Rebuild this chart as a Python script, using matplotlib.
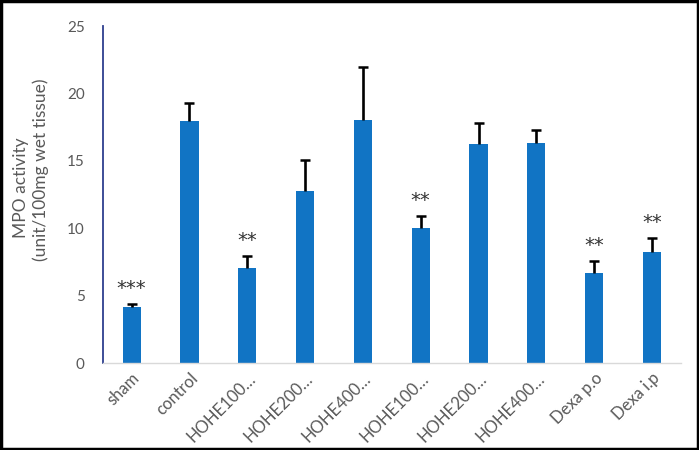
import matplotlib
matplotlib.use("Agg")
import matplotlib.pyplot as plt
from matplotlib.patches import Rectangle

categories = ["sham", "control", "HOHE100…", "HOHE200…", "HOHE400…",
              "HOHE100…", "HOHE200…", "HOHE400…", "Dexa p.o", "Dexa i.p"]
values = [4.19, 17.97, 7.04, 12.74, 18.07, 10.04, 16.24, 16.34, 6.67, 8.22]
errors = [0.18, 1.33, 0.91, 2.32, 3.90, 0.89, 1.58, 0.96, 0.91, 1.08]
stars = ["***", "", "**", "", "", "**", "", "", "**", "**"]
y_ticks = [0, 5, 10, 15, 20, 25]

plt.rcParams['font.family'] = ['Lato', 'DejaVu Sans']
grey = "#595959"

fig = plt.figure(figsize=(6.99, 4.5), dpi=100)
ax = fig.add_axes([0.147, 0.1927, 0.827, 0.7493])

x = list(range(len(categories)))
ax.bar(x, values, width=0.316, color="#1174C4", zorder=2)
_, caps, _ = ax.errorbar(x, values, yerr=[[0] * len(errors), errors], fmt="none",
                         ecolor="black", elinewidth=1.9, capsize=3.6,
                         capthick=1.8, zorder=3)
caps[0].remove()

for xi, v, e, s in zip(x, values, errors, stars):
    if s:
        ax.text(xi, v + e + 1.15, s, ha="center", va="center",
                fontsize=14, color="#333333", family="DejaVu Sans")

ax.set_xlim(-0.5, len(categories) - 0.5)
ax.set_ylim(0, 25)
ax.set_yticks(y_ticks)
ax.set_yticklabels([str(t) for t in y_ticks], color=grey, fontsize=11)
ax.set_xticks(x)
ax.set_xticklabels(categories, rotation=45, ha="right", rotation_mode="anchor",
                   color=grey, fontsize=12)
ax.tick_params(axis="both", length=0)
ax.tick_params(axis="y", pad=13)
ax.tick_params(axis="x", pad=5)

for side in ["top", "right"]:
    ax.spines[side].set_visible(False)
ax.spines["left"].set_color("#2E3F8F")
ax.spines["left"].set_linewidth(1.3)
ax.spines["bottom"].set_color("#D9D9D9")
ax.spines["bottom"].set_linewidth(1.0)

fig.text(0.030, 0.584, "MPO activity", rotation=90, ha="center", va="center",
         color=grey, fontsize=12.5)
fig.text(0.0587, 0.622, "(unit/100mg wet tissue)", rotation=90, ha="center",
         va="center", color=grey, fontsize=12.5)

fig.patches.append(Rectangle((0.0015, 0.002), 0.997, 0.996, transform=fig.transFigure,
                             fill=False, edgecolor="black", linewidth=2.5))

fig.savefig("out.png", dpi=100)
